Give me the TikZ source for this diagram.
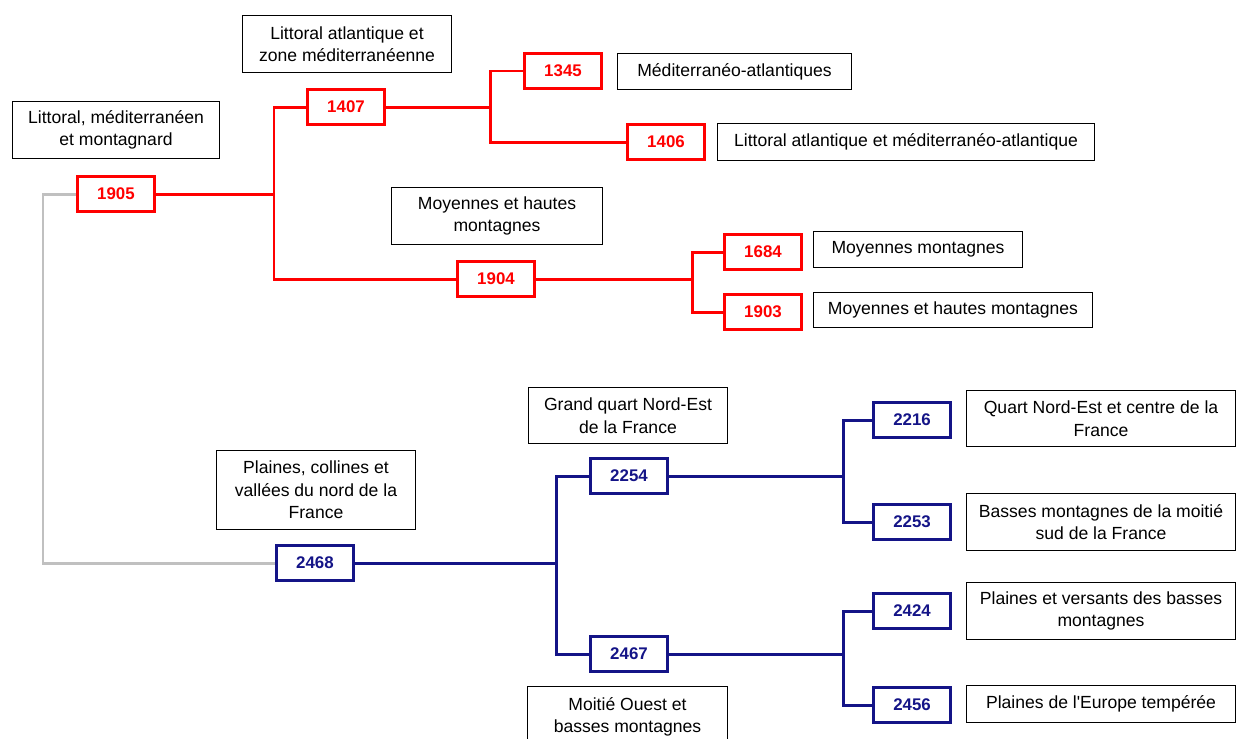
\documentclass[tikz,border=0pt]{standalone}
\usepackage{fontspec}
\setmainfont{Liberation Sans}
\definecolor{navy}{RGB}{20,20,135}
\definecolor{lightline}{RGB}{192,192,192}
\begin{document}
\begin{tikzpicture}[x=0.02cm, y=-0.02cm,
        num/.style = {draw, line width=1.7pt, minimum width=1.54cm, minimum height=0.70cm, inner sep=0pt, font=\fontsize{9.6}{12}\selectfont\bfseries},
        rednum/.style = {num, red, text=red},
        bluenum/.style = {num, navy, text=navy},
        lbl/.style = {draw, line width=0.7pt, align=center, inner sep=0pt, font=\fontsize{10}{12.8}\selectfont},
        redline/.style = {red, line width=1.7pt},
        blueline/.style = {navy, line width=1.7pt},
        grayline/.style = {lightline, line width=1.7pt}]
        \useasboundingbox (0,0) rectangle (1237,738);
        \begin{scope}[every node/.style = rednum]
            \node (n1905) at (116,194) {1905};
            \node (n1407) at (346,107) {1407};
            \node (n1345) at (563,71) {1345};
            \node (n1406) at (666,142) {1406};
            \node (n1904) at (496,279) {1904};
            \node (n1684) at (763,252) {1684};
            \node (n1903) at (763,312) {1903};
        \end{scope}
        \begin{scope}[every node/.style = bluenum]
            \node (n2468) at (315,563) {2468};
            \node (n2254) at (629,476) {2254};
            \node (n2467) at (629,654) {2467};
            \node (n2216) at (912,420) {2216};
            \node (n2253) at (912,522) {2253};
            \node (n2424) at (912,611) {2424};
            \node (n2456) at (912,705) {2456};
        \end{scope}
        \node[lbl, minimum width=4.15cm, minimum height=1.15cm] (l1905) at (116,130) {Littoral, méditerranéen\\et montagnard};
        \node[lbl, minimum width=4.19cm, minimum height=1.15cm] (l1407) at (347,44) {Littoral atlantique et\\zone méditerranéenne};
        \node[lbl, minimum width=4.69cm, minimum height=0.73cm] (l1345) at (734.5,71.5) {Méditerranéo-atlantiques};
        \node[lbl, minimum width=7.55cm, minimum height=0.75cm] (l1406) at (906,142) {Littoral atlantique et méditerranéo-atlantique};
        \node[lbl, minimum width=4.23cm, minimum height=1.15cm] (l1904) at (497,216) {Moyennes et hautes\\montagnes};
        \node[lbl, minimum width=4.19cm, minimum height=0.73cm] (l1684) at (918,249.5) {Moyennes montagnes};
        \node[lbl, minimum width=5.59cm, minimum height=0.71cm] (l1903) at (953,310) {Moyennes et hautes montagnes};
        \node[lbl, minimum width=3.99cm, minimum height=1.59cm] (l2468) at (316,490) {Plaines, collines et\\vallées du nord de la\\France};
        \node[lbl, minimum width=3.99cm, minimum height=1.13cm] (l2254) at (628,415.5) {Grand quart Nord-Est\\de la France};
        \node[lbl, minimum width=4.01cm, minimum height=1.23cm] (l2467) at (627.5,717) {Moitié Ouest et\\basses montagnes};
        \node[lbl, minimum width=5.39cm, minimum height=1.13cm] (l2216) at (1101,418.5) {Quart Nord-Est et centre de la\\France};
        \node[lbl, minimum width=5.39cm, minimum height=1.15cm] (l2253) at (1101,522) {Basses montagnes de la moitié\\sud de la France};
        \node[lbl, minimum width=5.39cm, minimum height=1.15cm] (l2424) at (1101,611) {Plaines et versants des basses\\montagnes};
        \node[lbl, minimum width=5.39cm, minimum height=0.75cm] (l2456) at (1101,704) {Plaines de l\textquotesingle Europe tempérée};
        \coordinate (j1905) at (274,194);
        \coordinate (j1407) at (490,107);
        \coordinate (j1904) at (692,279);
        \coordinate (j2468) at (556,563);
        \coordinate (j2254) at (843,476);
        \coordinate (j2467) at (843,654);
        \coordinate (gtop) at (43,194);
        \coordinate (gbot) at (43,563);
        \draw[grayline] (n1905) -- (gtop) -- (gbot) -- (n2468);
        \begin{scope}[style = redline]
            \draw (n1905) -- (j1905);
            \draw (j1905) |- (n1407);
            \draw (j1905) |- (n1904);
            \draw (n1407) -- (j1407);
            \draw (j1407) |- (n1345);
            \draw (j1407) |- (n1406);
            \draw (n1904) -- (j1904);
            \draw (j1904) |- (n1684);
            \draw (j1904) |- (n1903);
        \end{scope}
        \begin{scope}[style = blueline]
            \draw (n2468) -- (j2468);
            \draw (j2468) |- (n2254);
            \draw (j2468) |- (n2467);
            \draw (n2254) -- (j2254);
            \draw (j2254) |- (n2216);
            \draw (j2254) |- (n2253);
            \draw (n2467) -- (j2467);
            \draw (j2467) |- (n2424);
            \draw (j2467) |- (n2456);
        \end{scope}
    \end{tikzpicture}
\end{document}
